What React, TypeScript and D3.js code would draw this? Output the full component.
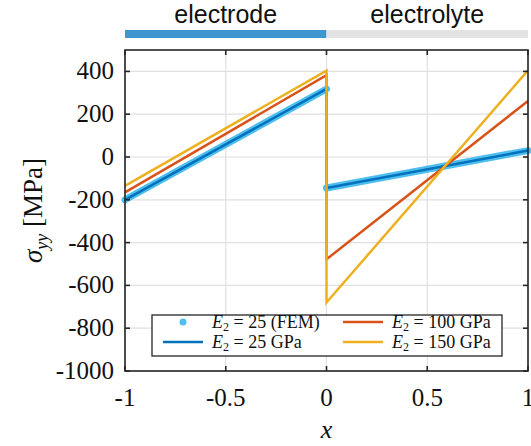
import React from "react";
import * as d3 from "d3";

const xTicks = [-1, -0.5, 0, 0.5, 1];
const xTickLabels = ["-1", "-0.5", "0", "0.5", "1"];
const yTicks = [400, 200, 0, -200, -400, -600, -800, -1000];
const yTickLabels = ["400", "200", "0", "-200", "-400", "-600", "-800", "-1000"];

// each series: points (x, sigma) along the profile
const femElectrode = [[-1, -200], [0, 318]];
const femElectrolyte = [[0, -145], [1, 30]];
const e25 = [[-1, -200], [0, 318], [0, -145], [1, 30]];
const e100 = [[-1, -165], [0, 382], [0, -478], [1, 262]];
const e150 = [[-1, -135], [0, 403], [0, -680], [1, 405]];

const regions = ["electrode", "electrolyte"];
const regionStart = [-1, 0];
const regionEnd = [0, 1];
const regionColors = ["#3F95CD", "#E3E3E3"];

const W = 531, H = 446;
const left = 125, right = 528, top = 50, bottom = 371;

export default function App() {
  const x = d3.scaleLinear().domain([-1, 1]).range([left, right]);
  const y = d3.scaleLinear().domain([-1000, 500]).range([bottom, top]);
  const line = d3.line<number[]>().x(d => x(d[0])).y(d => y(d[1]));
  const serif = "'Liberation Serif', 'DejaVu Serif', serif";
  const sans = "'Liberation Sans', Arial, sans-serif";

  const legendItems = [
    { type: "dot", color: "#4DBEEE", label: "25 (FEM)", col: 0, row: 0 },
    { type: "line", color: "#0072BD", label: "25 GPa", col: 0, row: 1 },
    { type: "line", color: "#D95319", label: "100 GPa", col: 1, row: 0 },
    { type: "line", color: "#EDB120", label: "150 GPa", col: 1, row: 1 },
  ];

  return (
    <svg width={W} height={H} style={{ position: "absolute", left: 0, top: 0, background: "#fff" }}>
      {/* region bars */}
      {regions.map((r, i) => (
        <g key={r}>
          <rect x={x(regionStart[i])} y={30} width={x(regionEnd[i]) - x(regionStart[i])} height={8} fill={regionColors[i]} />
          <text x={(x(regionStart[i]) + x(regionEnd[i])) / 2} y={23} textAnchor="middle" fontFamily={sans} fontSize={25} fill="#111">{r}</text>
        </g>
      ))}
      {/* grid */}
      {xTicks.map(t => (
        <line key={"gx" + t} x1={x(t)} x2={x(t)} y1={top} y2={bottom} stroke="#e0e0e0" strokeWidth={1.2} />
      ))}
      {yTicks.map(t => (
        <line key={"gy" + t} x1={left} x2={right} y1={y(t)} y2={y(t)} stroke="#e0e0e0" strokeWidth={1.2} />
      ))}
      {/* FEM */}
      {[femElectrode, femElectrolyte].map((seg, i) => (
        <path key={"fem" + i} d={line(seg) || ""} fill="none" stroke="#4DBEEE" strokeWidth={7} strokeLinecap="round" />
      ))}
      <path d={line(e25) || ""} fill="none" stroke="#0072BD" strokeWidth={2.5} />
      <path d={line(e100) || ""} fill="none" stroke="#D95319" strokeWidth={2.5} />
      <path d={line(e150) || ""} fill="none" stroke="#EDB120" strokeWidth={2.5} />
      {/* box */}
      <rect x={left} y={top} width={right - left} height={bottom - top} fill="none" stroke="#262626" strokeWidth={1.6} />
      {xTicks.map(t => (
        <g key={"tx" + t}>
          <line x1={x(t)} x2={x(t)} y1={bottom} y2={bottom - 5} stroke="#262626" strokeWidth={1.6} />
          <line x1={x(t)} x2={x(t)} y1={top} y2={top + 5} stroke="#262626" strokeWidth={1.6} />
        </g>
      ))}
      {yTicks.map(t => (
        <g key={"ty" + t}>
          <line x1={left} x2={left + 5} y1={y(t)} y2={y(t)} stroke="#262626" strokeWidth={1.6} />
          <line x1={right} x2={right - 5} y1={y(t)} y2={y(t)} stroke="#262626" strokeWidth={1.6} />
        </g>
      ))}
      {/* tick labels */}
      {xTicks.map((t, i) => (
        <text key={"lx" + t} x={x(t)} y={bottom + 35} textAnchor="middle" fontFamily={serif} fontSize={25} fill="#111">{xTickLabels[i]}</text>
      ))}
      {yTicks.map((t, i) => (
        <text key={"ly" + t} x={left - 11} y={y(t) + 8} textAnchor="end" fontFamily={serif} fontSize={25} fill="#111">{yTickLabels[i]}</text>
      ))}
      {/* axis labels */}
      <text x={(left + right) / 2} y={438} textAnchor="middle" fontFamily={serif} fontSize={26} fontStyle="italic" fill="#111">x</text>
      <text transform={`translate(42, ${(top + bottom) / 2}) rotate(-90)`} textAnchor="middle" fontFamily={serif} fontSize={27} fill="#111">
        <tspan fontStyle="italic">σ</tspan>
        <tspan fontStyle="italic" fontSize={18} dy={6}>yy</tspan>
        <tspan dy={-6}> [MPa]</tspan>
      </text>
      {/* legend */}
      <rect x={152} y={315} width={350} height={41} fill="#fff" stroke="#262626" strokeWidth={1.3} />
      {legendItems.map((it, i) => {
        const cx = it.col === 0 ? 163 : 343;
        const tx = it.col === 0 ? 212 : 392;
        const cy = it.row === 0 ? 322 : 342;
        return (
          <g key={i}>
            {it.type === "dot" ? (
              <circle cx={cx + 20} cy={cy} r={3.5} fill={it.color} />
            ) : (
              <line x1={cx} x2={cx + 40} y1={cy} y2={cy} stroke={it.color} strokeWidth={2.5} />
            )}
            <text x={tx} y={cy + 6} fontFamily={serif} fontSize={18} fill="#111">
              <tspan fontStyle="italic">E</tspan>
              <tspan fontSize={12} dy={3}>2</tspan>
              <tspan dy={-3}>{" = " + it.label}</tspan>
            </text>
          </g>
        );
      })}
    </svg>
  );
}
